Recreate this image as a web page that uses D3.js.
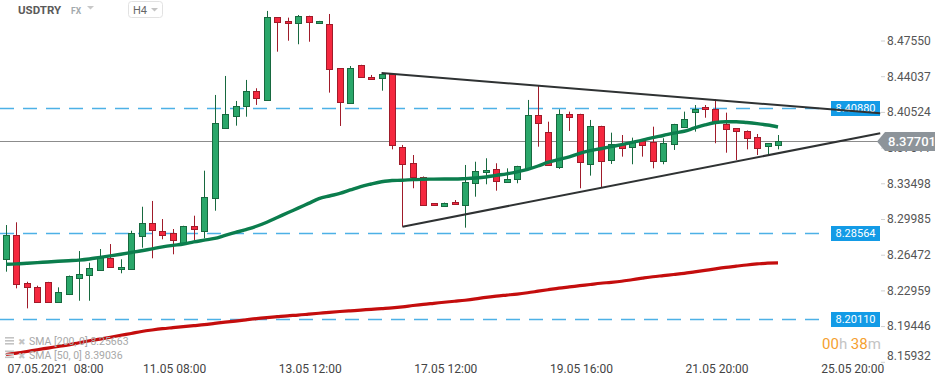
<!DOCTYPE html>
<html lang="en">
<head>
<meta charset="UTF-8">
<title>USDTRY H4</title>
<script src="https://d3js.org/d3.v7.min.js"></script>
<style>
  body { margin: 0; background: #fff; }
  svg { display: block; font-family: Roboto, "Open Sans", sans-serif; }
</style>
</head>
<body>
<div id="chart"></div>
<script>
// H4 candles, one entry per bar
const opens = [8.2602, 8.2841, 8.2366, 8.2326, 8.2375, 8.2179, 8.2267, 8.2415, 8.2440, 8.2496,
  8.2612, 8.2503, 8.2513, 8.2824, 8.2956, 8.2883, 8.2864, 8.2759, 8.2932, 8.2873,
  8.3202, 8.3897, 8.4015, 8.4114, 8.4258, 8.4163, 8.4984, 8.4947, 8.4925, 8.4997,
  8.4931, 8.4918, 8.4482, 8.4147, 8.4514, 8.4399, 8.4383, 8.4423, 8.3704, 8.3547,
  8.3415, 8.3153, 8.3133, 8.3163, 8.3133, 8.3350, 8.3458, 8.3488, 8.3366, 8.3389,
  8.3497, 8.4022, 8.3852, 8.3513, 8.4032, 8.4032, 8.3537, 8.3914, 8.3572, 8.3734,
  8.3700, 8.3769, 8.3759, 8.3572, 8.3734, 8.3907, 8.4049, 8.4098, 8.4081, 8.3931,
  8.3891, 8.3868, 8.3809, 8.3710, 8.3734];
const highs = [8.2939, 8.2966, 8.2381, 8.2342, 8.2380, 8.2326, 8.2442, 8.2683, 8.2568, 8.2703,
  8.2752, 8.2602, 8.2883, 8.3119, 8.3176, 8.2998, 8.2900, 8.2932, 8.3031, 8.3474,
  8.4219, 8.4406, 8.4160, 8.4367, 8.4285, 8.5046, 8.4986, 8.4980, 8.5006, 8.4999,
  8.4948, 8.5016, 8.4484, 8.4504, 8.4516, 8.4416, 8.4438, 8.4425, 8.3727, 8.3628,
  8.3417, 8.3154, 8.3160, 8.3185, 8.3530, 8.3562, 8.3596, 8.3547, 8.3497, 8.3522,
  8.4170, 8.4308, 8.3956, 8.4078, 8.4055, 8.4034, 8.3973, 8.3916, 8.3848, 8.3825,
  8.3799, 8.3771, 8.3907, 8.3793, 8.3935, 8.4055, 8.4120, 8.4120, 8.4177, 8.4045,
  8.3893, 8.3870, 8.3835, 8.3746, 8.3825];
const lows = [8.2480, 8.2316, 8.2119, 8.2175, 8.2175, 8.2175, 8.2250, 8.2194, 8.2194, 8.2494,
  8.2520, 8.2464, 8.2510, 8.2716, 8.2612, 8.2799, 8.2651, 8.2757, 8.2792, 8.2808,
  8.3080, 8.3895, 8.3917, 8.4005, 8.4121, 8.4160, 8.4645, 8.4753, 8.4718, 8.4743,
  8.4930, 8.4242, 8.3914, 8.4145, 8.4391, 8.4374, 8.4261, 8.3684, 8.2923, 8.3301,
  8.3141, 8.3132, 8.3132, 8.3142, 8.2913, 8.3218, 8.3340, 8.3277, 8.3364, 8.3350,
  8.3495, 8.3710, 8.3521, 8.3491, 8.3865, 8.3301, 8.3425, 8.3307, 8.3540, 8.3612,
  8.3537, 8.3612, 8.3497, 8.3537, 8.3678, 8.3905, 8.3858, 8.3995, 8.3744, 8.3651,
  8.3579, 8.3684, 8.3628, 8.3628, 8.3684];
const closes = [8.2841, 8.2356, 8.2322, 8.2179, 8.2179, 8.2277, 8.2440, 8.2454, 8.2513, 8.2621,
  8.2523, 8.2523, 8.2864, 8.2956, 8.2883, 8.2848, 8.2799, 8.2930, 8.2907, 8.3212,
  8.3940, 8.4032, 8.4111, 8.4258, 8.4186, 8.4984, 8.4935, 8.4925, 8.4997, 8.4935,
  8.4947, 8.4472, 8.4147, 8.4488, 8.4393, 8.4376, 8.4423, 8.3727, 8.3537, 8.3405,
  8.3143, 8.3133, 8.3159, 8.3143, 8.3360, 8.3471, 8.3481, 8.3366, 8.3392, 8.3520,
  8.4022, 8.3940, 8.3523, 8.4032, 8.4005, 8.3562, 8.3914, 8.3572, 8.3734, 8.3694,
  8.3753, 8.3734, 8.3572, 8.3749, 8.3933, 8.3983, 8.4078, 8.4078, 8.3940, 8.3881,
  8.3858, 8.3803, 8.3704, 8.3744, 8.37701];

const sma50 = [8.2553, 8.2557, 8.2563, 8.2569, 8.2576, 8.2582, 8.2588, 8.2594, 8.2605, 8.2621,
  8.2636, 8.2652, 8.2669, 8.2686, 8.2705, 8.2724, 8.2739, 8.2752, 8.2773, 8.2790,
  8.2807, 8.2837, 8.2866, 8.2895, 8.2927, 8.2967, 8.3013, 8.3060, 8.3105, 8.3152,
  8.3198, 8.3225, 8.3250, 8.3284, 8.3318, 8.3343, 8.3365, 8.3378, 8.3380, 8.3386,
  8.3389, 8.3391, 8.3392, 8.3392, 8.3396, 8.3402, 8.3412, 8.3428, 8.3443, 8.3463,
  8.3487, 8.3520, 8.3558, 8.3584, 8.3610, 8.3645, 8.3671, 8.3690, 8.3710, 8.3730,
  8.3752, 8.3774, 8.3799, 8.3820, 8.3843, 8.3862, 8.3894, 8.3924, 8.3948, 8.3956,
  8.3956, 8.3948, 8.3937, 8.3923, 8.39036];
const sma200 = [8.1665, 8.1679, 8.1695, 8.1712, 8.1728, 8.1744, 8.1760, 8.1781, 8.1800, 8.1817,
  8.1835, 8.1854, 8.1872, 8.1891, 8.1906, 8.1919, 8.1929, 8.1939, 8.1949, 8.1959,
  8.1971, 8.1983, 8.1994, 8.2006, 8.2018, 8.2028, 8.2037, 8.2046, 8.2053, 8.2062,
  8.2071, 8.2080, 8.2088, 8.2095, 8.2102, 8.2110, 8.2117, 8.2124, 8.2134, 8.2147,
  8.2159, 8.2169, 8.2179, 8.2189, 8.2199, 8.2212, 8.2228, 8.2240, 8.2250, 8.2260,
  8.2273, 8.2288, 8.2303, 8.2318, 8.2330, 8.2342, 8.2354, 8.2366, 8.2375, 8.2386,
  8.2401, 8.2416, 8.2430, 8.2441, 8.2452, 8.2463, 8.2478, 8.2493, 8.2508, 8.2522,
  8.2534, 8.2546, 8.2556, 8.2564, 8.25663];

const yTicks = [8.47550, 8.44037, 8.40524, 8.37011, 8.33498, 8.29985, 8.26472, 8.22959, 8.19446, 8.15932];
const xTickIdx = [0, 13, 26, 39, 52, 65, 78];
const xTickLabels = ["07.05.2021  08:00", "11.05 08:00", "13.05 12:00", "17.05 12:00", "19.05 16:00", "21.05 20:00", "25.05 20:00"];

const levels = [8.40880, 8.28564, 8.20110];
const lastPrice = 8.37701;
// trend lines as [bar index, price] pairs
const upperTrend = [[36, 8.4435], [83.8, 8.4039]];
const lowerTrend = [[38, 8.2923], [83.8, 8.3842]];

const width = 935, height = 375;
const upCol = "#2aa76a", upEdge = "#17693f";
const dnCol = "#f5283f", dnEdge = "#a01b2a";

const x = d3.scaleLinear().domain([0, 74]).range([6, 778]);
const y = d3.scaleLinear().domain([8.15932, 8.47550]).range([361.8, 40.5]);

const svg = d3.select("#chart").append("svg")
  .attr("width", width).attr("height", height);

// horizontal levels
const lv = svg.append("g");
levels.forEach(v => {
  const yy = Math.round(y(v)) + 0.5;
  lv.append("line").attr("x1", 0).attr("x2", 826).attr("y1", yy).attr("y2", yy)
    .attr("stroke", "#4db1e6").attr("stroke-width", 1.3).attr("stroke-dasharray", "14,9");
  lv.append("rect").attr("x", 831).attr("y", yy - 7.5).attr("width", 49).attr("height", 15)
    .attr("fill", "#139be6");
  lv.append("text").attr("x", 855.5).attr("y", yy).attr("dy", "0.35em")
    .attr("text-anchor", "middle").attr("fill", "#fff").style("font-size", "11px")
    .text(v.toFixed(5));
});

// last price line
const ly = Math.round(y(lastPrice)) + 0.5;
svg.append("line").attr("x1", 0).attr("x2", 878).attr("y1", ly).attr("y2", ly)
  .attr("stroke", "#8c8c8c").attr("stroke-width", 1);

// candles
const candles = closes.map((c, i) => ({ i: i, o: opens[i], h: highs[i], l: lows[i], c: c }));
const cg = svg.append("g");
cg.selectAll("line").data(candles).join("line")
  .attr("x1", d => Math.round(x(d.i)) + 0.5).attr("x2", d => Math.round(x(d.i)) + 0.5)
  .attr("y1", d => y(d.h)).attr("y2", d => y(d.l))
  .attr("stroke", d => d.c >= d.o ? upEdge : dnEdge).attr("stroke-width", 1);
cg.selectAll("rect").data(candles).join("rect")
  .attr("x", d => Math.round(x(d.i)) - 2.5)
  .attr("y", d => Math.round(y(Math.max(d.o, d.c))) + 0.5)
  .attr("width", 6)
  .attr("height", d => Math.max(1, Math.round(Math.abs(y(d.o) - y(d.c)))))
  .attr("fill", d => d.c >= d.o ? upCol : dnCol)
  .attr("stroke", d => d.c >= d.o ? upEdge : dnEdge).attr("stroke-width", 1);

// moving averages
const line = d3.line().x((d, i) => x(i)).y(d => y(d)).curve(d3.curveMonotoneX);
svg.append("path").datum(sma200).attr("d", line)
  .attr("fill", "none").attr("stroke", "#c40d0d").attr("stroke-width", 3.2);
svg.append("path").datum(sma50).attr("d", line)
  .attr("fill", "none").attr("stroke", "#0b7d4d").attr("stroke-width", 3.4);

// triangle trend lines
const tline = d3.line().x(d => x(d[0])).y(d => y(d[1]));
[upperTrend, lowerTrend].forEach(t => {
  svg.append("path").datum(t).attr("d", tline)
    .attr("fill", "none").attr("stroke", "#2f3233").attr("stroke-width", 2);
});

// price axis
const yAxis = d3.axisRight(y).tickValues(yTicks).tickSize(4).tickPadding(2)
  .tickFormat(d3.format(".5f"));
const yg = svg.append("g").attr("transform", "translate(881,0)").call(yAxis);
yg.select(".domain").remove();
yg.selectAll(".tick line").attr("stroke", "#d0d0d0");
yg.selectAll(".tick text").attr("fill", "#555").style("font-size", "12px")
  .style("font-family", "Roboto, sans-serif")
  .attr("y", d => Math.min(0, 356 - y(d)));

// last price tag
svg.append("path")
  .attr("d", `M877,${ly} L885,${ly - 9.5} L935,${ly - 9.5} L935,${ly + 9.5} L885,${ly + 9.5} Z`)
  .attr("fill", "#8d949a");
svg.append("text").attr("x", 888).attr("y", ly).attr("dy", "0.36em")
  .attr("fill", "#fff").style("font-size", "13px").style("font-weight", 500)
  .text(lastPrice.toFixed(5));

// time axis
const xAxis = d3.axisBottom(x).tickValues(xTickIdx).tickSize(0).tickPadding(0)
  .tickFormat((d, i) => xTickLabels[i]);
const xg = svg.append("g").attr("transform", "translate(1,364)").call(xAxis);
xg.select(".domain").remove();
xg.selectAll(".tick text").attr("text-anchor", "start").attr("fill", "#444")
  .style("white-space", "pre")
  .style("font-size", "12px").style("font-family", "Roboto, sans-serif");

// header
svg.append("text").attr("x", 18).attr("y", 14).attr("fill", "#5a5a5a")
  .style("font-size", "11.5px").style("font-weight", 700).text("USDTRY");
svg.append("text").attr("x", 71).attr("y", 13.5).attr("fill", "#a3a9ad")
  .style("font-size", "8.5px").style("font-weight", 700).text("FX");
svg.append("path").attr("d", "M87,6 L94,6 L90.5,9.5 Z").attr("fill", "#c8c8c8");
svg.append("rect").attr("x", 128.5).attr("y", 1.5).attr("width", 34).attr("height", 16)
  .attr("rx", 3).attr("fill", "#fff").attr("stroke", "#e2e2e2");
svg.append("text").attr("x", 133).attr("y", 13.5).attr("fill", "#666")
  .style("font-size", "11px").text("H4");
svg.append("path").attr("d", "M151,8 L158,8 L154.5,11.5 Z").attr("fill", "#c4c4c4");

// indicator legend
const legend = [["SMA [200, 0] ", sma200[sma200.length - 1]], ["SMA [50, 0] ", sma50[sma50.length - 1]]];
legend.forEach((l, k) => {
  const by = 345 + k * 13.5;
  [0, 3, 6].forEach(o => svg.append("rect").attr("x", 5).attr("y", by - 8 + o)
    .attr("width", 9).attr("height", 1.6).attr("fill", "#c3c3c3"));
  svg.append("text").attr("x", 17.5).attr("y", by).attr("fill", "#c3c3c3")
    .style("font-size", "9px").text("\u2716");
  svg.append("text").attr("x", 29).attr("y", by).attr("fill", "#a8a8a8")
    .style("font-size", "10.5px").text(l[0] + l[1].toFixed(5));
});

// countdown to bar close
const timer = svg.append("text").attr("x", 822).attr("y", 348.5).style("font-size", "15px");
timer.append("tspan").attr("fill", "#f5a030").text("00");
timer.append("tspan").attr("fill", "#c4c4c4").text("h ");
timer.append("tspan").attr("fill", "#f5a030").text("38");
timer.append("tspan").attr("fill", "#c4c4c4").text("m");
</script>
</body>
</html>
